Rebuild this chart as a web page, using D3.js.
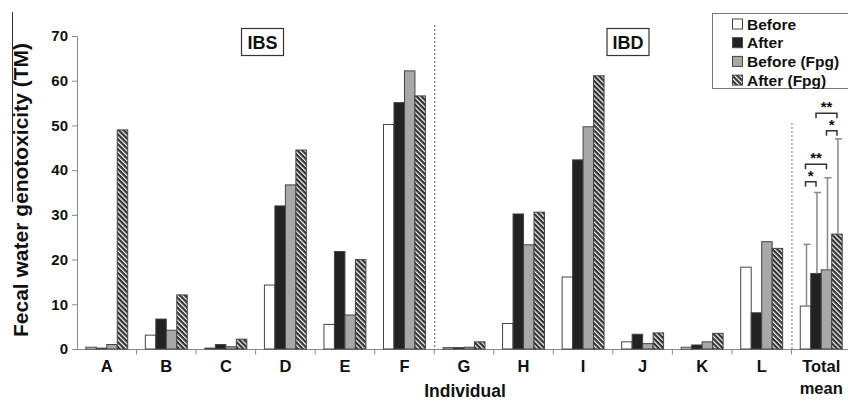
<!DOCTYPE html>
<html>
<head>
<meta charset="utf-8">
<script src="https://cdn.jsdelivr.net/npm/d3@7/dist/d3.min.js"></script>
<style>
  body { margin: 0; background: #fff; }
  svg { display: block; font-family: "Liberation Sans", Arial, sans-serif; }
</style>
</head>
<body>
<svg id="chart" width="848" height="401"></svg>
<script>
// values
const categories = ['A', 'B', 'C', 'D', 'E', 'F', 'G', 'H', 'I', 'J', 'K', 'L', 'Total mean'];
const seriesNames = ['Before', 'After', 'Before (Fpg)', 'After (Fpg)'];
const before    = [0.4, 3.1, 0.2, 14.3, 5.5, 50.2, 0.3, 5.7, 16.1, 1.6, 0.4, 18.3, 9.6];
const after     = [0.2, 6.7, 1.0, 32.0, 21.8, 55.1, 0.3, 30.2, 42.3, 3.3, 0.9, 8.1, 16.9];
const beforeFpg = [1.0, 4.2, 0.5, 36.7, 7.6, 62.2, 0.4, 23.3, 49.7, 1.2, 1.6, 24.0, 17.7];
const afterFpg  = [49.0, 12.1, 2.2, 44.5, 20.0, 56.6, 1.6, 30.6, 61.1, 3.6, 3.5, 22.5, 25.7];
const totalSD   = [13.8, 18.1, 20.6, 21.3];
// significance brackets on the total mean group: series index pairs, height in TM
const sigFrom  = [0, 0, 2, 1];
const sigTo    = [1, 2, 3, 3];
const sigLevel = [37.4, 41.3, 48.8, 52.7];
const sigText  = ['*', '**', '*', '**'];
const yTicks = [0, 10, 20, 30, 40, 50, 60, 70];

const series = [before, after, beforeFpg, afterFpg];
const fills = ['#ffffff', '#222222', '#a8a8a8', 'url(#hatch)'];

const svg = d3.select('#chart');

// hatch pattern (stripes running top-left to bottom-right)
const defs = svg.append('defs');
const pat = defs.append('pattern')
  .attr('id', 'hatch')
  .attr('patternUnits', 'userSpaceOnUse')
  .attr('width', 3.5).attr('height', 3.5)
  .attr('patternTransform', 'rotate(-45)');
pat.append('rect').attr('width', 3.5).attr('height', 3.5).attr('fill', '#333');
pat.append('rect').attr('width', 1.2).attr('height', 3.5).attr('fill', '#fff');

const x = d3.scaleBand().domain(categories).range([77, 851]).padding(0);
const inner = d3.scaleBand().domain(d3.range(4)).range([8.8, x.bandwidth() - 8.8]).padding(0);
const y = d3.scaleLinear().domain([0, 70]).range([349, 36]);

// left artifact line beside axis title
svg.append('line').attr('x1', 12.5).attr('x2', 12.5).attr('y1', 12).attr('y2', 202)
  .attr('stroke', '#333').attr('stroke-width', 1);

// y axis
const yAxis = svg.append('g').attr('transform', 'translate(77,0)')
  .call(d3.axisLeft(y).tickValues(yTicks).tickSize(5).tickPadding(4));
yAxis.select('.domain').attr('stroke', '#888');
yAxis.selectAll('.tick line').attr('stroke', '#888');
yAxis.selectAll('.tick text').attr('fill', '#111')
  .style('font-size', '15px').style('font-weight', 'bold');

svg.append('text')
  .attr('transform', 'translate(28,190) rotate(-90)')
  .attr('text-anchor', 'middle')
  .style('font-size', '21px').style('font-weight', 'bold').attr('fill', '#111')
  .text('Fecal water genotoxicity (TM)');

// x axis
svg.append('line').attr('x1', 77).attr('x2', 851).attr('y1', 349.5).attr('y2', 349.5)
  .attr('stroke', '#888');
const bounds = categories.map(c => x(c) + x.bandwidth());
svg.append('g').selectAll('line').data(bounds).join('line')
  .attr('x1', d => d).attr('x2', d => d)
  .attr('y1', 349.5).attr('y2', 354.5)
  .attr('stroke', '#888');

const lab = svg.append('g').selectAll('text').data(categories).join('text')
  .attr('x', d => x(d) + x.bandwidth() / 2)
  .attr('y', 372)
  .attr('text-anchor', 'middle')
  .style('font-size', '16.5px').style('font-weight', 'bold').attr('fill', '#111');
lab.each(function (d) {
  const parts = d.split(' ');
  parts.forEach((p, i) => {
    d3.select(this).append('tspan')
      .attr('x', x(d) + x.bandwidth() / 2)
      .attr('dy', i === 0 ? 0 : 22)
      .text(p);
  });
});

svg.append('text').attr('x', 465).attr('y', 397)
  .attr('text-anchor', 'middle')
  .style('font-size', '17.5px').style('font-weight', 'bold').attr('fill', '#111')
  .text('Individual');

// group separators
svg.append('line').attr('x1', x('G') + 0.5).attr('x2', x('G') + 0.5).attr('y1', 25).attr('y2', 349)
  .attr('stroke', '#555').attr('stroke-dasharray', '2,2');
svg.append('line').attr('x1', x('Total mean') + 0.5).attr('x2', x('Total mean') + 0.5).attr('y1', 123).attr('y2', 349)
  .attr('stroke', '#777').attr('stroke-dasharray', '2,2');

// bars
series.forEach((vals, s) => {
  svg.append('g').selectAll('rect').data(vals).join('rect')
    .attr('x', (d, i) => x(categories[i]) + inner(s))
    .attr('y', d => y(d))
    .attr('width', inner.bandwidth())
    .attr('height', d => y(0) - y(d))
    .attr('fill', fills[s])
    .attr('stroke', '#444')
    .attr('stroke-width', 1);
});

// error bars on total mean
const tm = 'Total mean';
const eb = svg.append('g');
totalSD.forEach((sd, s) => {
  const cx = x(tm) + inner(s) + inner.bandwidth() / 2 + 1;
  const top = series[s][categories.length - 1] + sd;
  eb.append('line').attr('x1', cx).attr('x2', cx)
    .attr('y1', y(series[s][categories.length - 1])).attr('y2', y(top))
    .attr('stroke', '#888').attr('stroke-width', 1.5);
  eb.append('line').attr('x1', cx - 3).attr('x2', cx + 4)
    .attr('y1', y(top)).attr('y2', y(top))
    .attr('stroke', '#888').attr('stroke-width', 1.5);
});

// significance brackets
const sg = svg.append('g');
sigFrom.forEach((f, k) => {
  const x1 = x(tm) + inner(f) + inner.bandwidth() / 2;
  const x2 = x(tm) + inner(sigTo[k]) + inner.bandwidth() / 2;
  const yy = y(sigLevel[k]);
  sg.append('path')
    .attr('d', `M${x1},${yy + 5}V${yy}H${x2}V${yy + 5}`)
    .attr('fill', 'none').attr('stroke', '#333').attr('stroke-width', 1.5);
  sg.append('text').attr('x', (x1 + x2) / 2).attr('y', yy - 1)
    .attr('text-anchor', 'middle')
    .style('font-size', '15px').style('font-weight', 'bold').attr('fill', '#111')
    .text(sigText[k]);
});

// group titles
function boxLabel(cx, label) {
  const g = svg.append('g');
  g.append('rect').attr('x', cx - 21).attr('y', 28.5).attr('width', 42).attr('height', 27)
    .attr('fill', '#fff').attr('stroke', '#333').attr('stroke-width', 1.2);
  g.append('text').attr('x', cx).attr('y', 49)
    .attr('text-anchor', 'middle')
    .style('font-size', '18px').style('font-weight', 'bold').attr('fill', '#111')
    .text(label);
}
boxLabel(262.5, 'IBS');
boxLabel(628, 'IBD');

// legend
const lg = svg.append('g');
lg.append('rect').attr('x', 712.5).attr('y', 13.5).attr('width', 150).attr('height', 75)
  .attr('fill', '#fff').attr('stroke', '#777');
seriesNames.forEach((n, i) => {
  const cy = 24 + i * 18.7;
  lg.append('rect').attr('x', 732.5).attr('y', cy - 5).attr('width', 10).attr('height', 10)
    .attr('fill', fills[i]).attr('stroke', '#444');
  lg.append('text').attr('x', 747).attr('y', cy + 5.5)
    .style('font-size', '15.5px').style('font-weight', 'bold').attr('fill', '#111')
    .text(n);
});
</script>
</body>
</html>
